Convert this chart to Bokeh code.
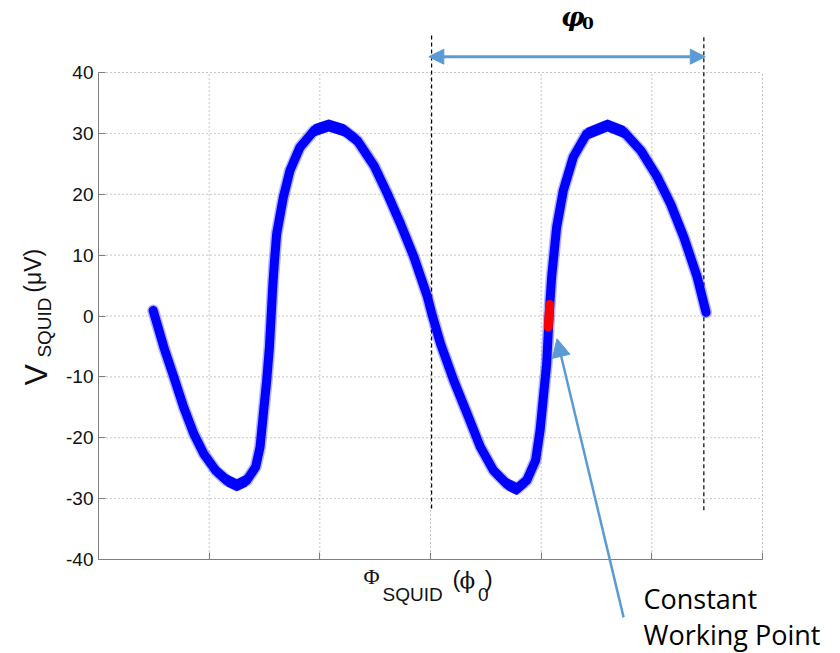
import numpy as np
from bokeh.plotting import figure
from bokeh.models import Range1d, FixedTicker, Label, Arrow, NormalHead, LinearAxis
from bokeh.embed import file_html
from bokeh.resources import INLINE

# SQUID voltage vs. applied flux (flux in grid units, voltage in microvolts)
flux = [0.494, 0.59, 0.68, 0.77, 0.86, 0.95, 1.06, 1.16, 1.25, 1.34,
        1.42, 1.46, 1.49, 1.52, 1.545, 1.56, 1.575, 1.59, 1.61, 1.67,
        1.73, 1.82, 1.95, 2.08, 2.22, 2.34, 2.49, 2.61, 2.73, 2.85,
        2.97, 3.01, 3.09, 3.21, 3.33, 3.45, 3.57, 3.69, 3.78, 3.87,
        3.95, 3.99, 4.02, 4.05, 4.065, 4.08, 4.095, 4.12, 4.14, 4.20,
        4.29, 4.41, 4.60, 4.75, 4.90, 5.05, 5.17, 5.29, 5.41, 5.49]
volts = [0.9, -5.1, -10.0, -15.0, -19.3, -22.6, -25.4, -27.0, -27.8, -27.0,
         -24.8, -21.5, -16.0, -10.6, -5.0, 0.0, 5.0, 9.0, 13.5, 19.5,
         23.9, 27.7, 30.5, 31.3, 30.5, 28.8, 24.7, 20.1, 15.1, 9.7,
         3.3, 0.5, -4.5, -10.6, -16.0, -21.5, -25.4, -27.6, -28.4, -27.0,
         -23.7, -18.8, -13.3, -7.8, -2.4, 2.5, 6.5, 11.0, 14.6, 20.6,
         26.1, 29.9, 31.3, 30.2, 27.2, 22.8, 18.4, 12.9, 6.4, 0.6]

# the locked working point on the steep flank
wp_flux = [4.064, 4.078]
wp_volts = [-1.8, 1.9]

# one flux quantum period, marked by two dashed lines
period_flux = [3.01, 5.47]
period_bottom = [-31.6, -31.9]
period_top = [46.3, 46.3]
arrow_level = 42.6

x_ticks = [0, 1, 2, 3, 4, 5, 6]
y_ticks = [-40, -30, -20, -10, 0, 10, 20, 30, 40]
noise_half = 1.0

BLUE = "#0000FF"
RED = "#FF0000"
ANNOT = "#5B9BD5"
AXIS = "#7f7f7f"
GRID = "#8c8c8c"

# the frame spans the whole canvas; the axes sit at fixed data positions
p = figure(width=840, height=653,
           x_range=Range1d(-0.8855, 6.7048), y_range=Range1d(-55.44, 51.83),
           output_backend="svg", toolbar_location=None,
           x_axis_location=None, y_axis_location=None, min_border=0)
p.grid.visible = False
p.outline_line_color = None
p.background_fill_color = "white"
p.border_fill_color = "white"

# dotted grid limited to the axes box
gx = [t for t in x_ticks if t > x_ticks[0]]
gy = [t for t in y_ticks if t > y_ticks[0]]
p.segment(x0=gx, y0=[y_ticks[0]] * len(gx), x1=gx, y1=[y_ticks[-1]] * len(gx),
          line_color=GRID, line_width=1, line_dash="1 3")
p.segment(x0=[x_ticks[0]] * len(gy), y0=gy, x1=[x_ticks[-1]] * len(gy), y1=gy,
          line_color=GRID, line_width=1, line_dash="1 3")

# axes
xaxis = LinearAxis(fixed_location=y_ticks[0], ticker=FixedTicker(ticks=x_ticks),
                   bounds=(x_ticks[0], x_ticks[-1]),
                   major_label_overrides={t: "" for t in x_ticks})
yaxis = LinearAxis(fixed_location=x_ticks[0], ticker=FixedTicker(ticks=y_ticks),
                   bounds=(y_ticks[0], y_ticks[-1]),
                   major_label_overrides={t: str(t) for t in y_ticks},
                   major_label_text_font="Liberation Sans",
                   major_label_text_font_size="19px",
                   major_label_text_color="#111111",
                   major_label_standoff=5)
for ax in (xaxis, yaxis):
    ax.axis_line_color = AXIS
    ax.major_tick_line_color = AXIS
    ax.major_tick_in = 7
    ax.major_tick_out = 0
    ax.minor_tick_line_color = None
p.add_layout(xaxis, "below")
p.add_layout(yaxis, "left")

# period markers
p.segment(x0=period_flux, y0=period_bottom, x1=period_flux, y1=period_top,
          line_color="black", line_width=1.2, line_dash="4 3")

# noisy V-Phi trace: soft fringe, thick band and core line
v = np.array(volts)
p.line(flux, volts, line_color=BLUE, line_width=12, line_alpha=0.3,
       line_join="round", line_cap="round")
p.varea(x=flux, y1=v - noise_half, y2=v + noise_half, fill_color=BLUE)
p.line(flux, volts, line_color=BLUE, line_width=9,
       line_join="round", line_cap="round")

# working point
p.line(wp_flux, wp_volts, line_color=RED, line_width=9, line_cap="round")

# period arrow
p.add_layout(Arrow(
    start=NormalHead(size=15, fill_color=ANNOT, line_color=ANNOT),
    end=NormalHead(size=15, fill_color=ANNOT, line_color=ANNOT),
    x_start=2.985, y_start=arrow_level, x_end=5.483, y_end=arrow_level,
    line_color=ANNOT, line_width=3))

# callout arrow for the working point
p.add_layout(Arrow(
    end=NormalHead(size=18, fill_color=ANNOT, line_color=ANNOT),
    x_start=4.745, y_start=-49.5, x_end=4.143, y_end=-3.74,
    line_color=ANNOT, line_width=2.5))


def txt(x, y, s, font, size, angle=0.0, style="normal", color="#111111"):
    p.add_layout(Label(x=x, y=y, text=s, text_font=font,
                       text_font_size=size, text_font_style=style,
                       text_color=color, angle=angle,
                       text_align="left", text_baseline="alphabetic"))


# y-axis title
txt(-0.569, -11.43, "V", "Liberation Sans", "32px", angle=np.pi / 2)
txt(-0.488, -6.83, "SQUID", "Liberation Sans", "19px", angle=np.pi / 2)
txt(-0.596, 3.84, "(\u03bcV)", "Liberation Sans", "23px", angle=np.pi / 2)

# x-axis title
txt(2.395, -42.79, "\u03a6", "Liberation Serif", "22px")
txt(2.566, -45.75, "SQUID", "Liberation Sans", "19px")
txt(3.199, -43.1, "(", "Liberation Sans", "24px")
txt(3.262, -43.3, "\u03d5", "DejaVu Serif", "23px")
txt(3.43, -45.75, "0", "Liberation Sans", "19px")
txt(3.49, -43.1, ")", "Liberation Sans", "24px")

# period label
txt(4.18, 49.2, "\u03c6", "DejaVu Serif", "26px", style="bold italic", color="black")
txt(4.37, 48.1, "0", "DejaVu Serif", "17px", style="bold", color="black")

# working point caption
txt(4.925, -46.41, "Constant", "Open Sans", "27px", color="black")
txt(4.925, -52.32, "Working Point", "Open Sans", "27px", color="black")

open("out.html", "w").write(file_html(p, INLINE))
